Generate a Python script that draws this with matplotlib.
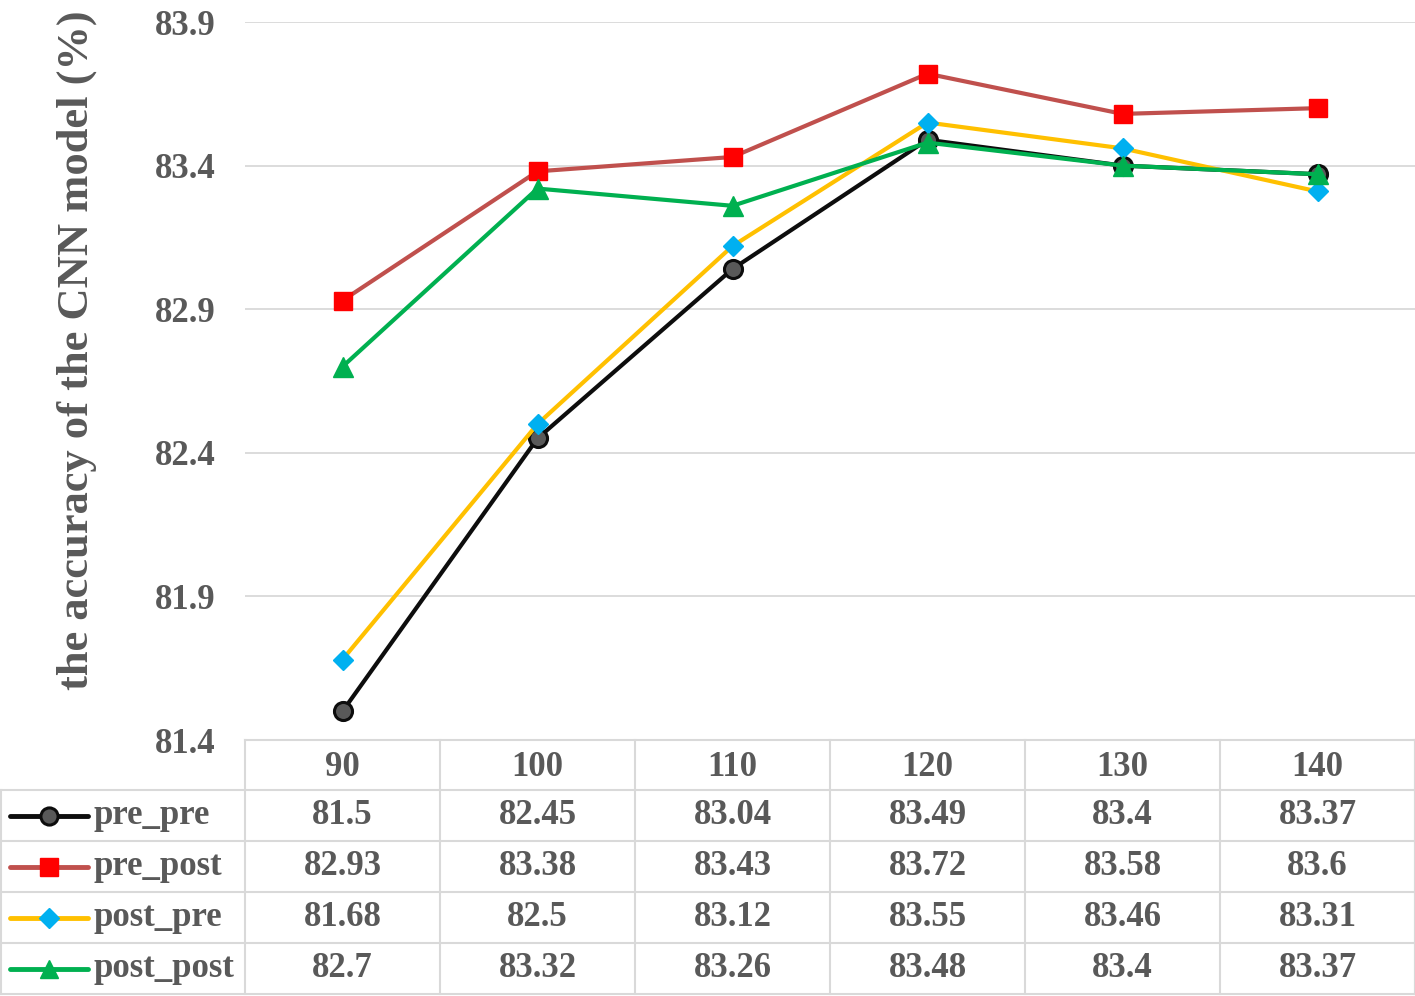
import matplotlib
matplotlib.use("Agg")
import matplotlib.pyplot as plt
from matplotlib.lines import Line2D

# ---- data ----
categories = ["90", "100", "110", "120", "130", "140"]
series_names = ["pre_pre", "pre_post", "post_pre", "post_post"]
pre_pre = [81.5, 82.45, 83.04, 83.49, 83.4, 83.37]
pre_post = [82.93, 83.38, 83.43, 83.72, 83.58, 83.6]
post_pre = [81.68, 82.5, 83.12, 83.55, 83.46, 83.31]
post_post = [82.7, 83.32, 83.26, 83.48, 83.4, 83.37]
table_text = [
    ["81.5", "82.45", "83.04", "83.49", "83.4", "83.37"],
    ["82.93", "83.38", "83.43", "83.72", "83.58", "83.6"],
    ["81.68", "82.5", "83.12", "83.55", "83.46", "83.31"],
    ["82.7", "83.32", "83.26", "83.48", "83.4", "83.37"],
]
y_ticks = [81.4, 81.9, 82.4, 82.9, 83.4, 83.9]
y_label = "the accuracy of the CNN model (%)"

# ---- styles ----
styles = [
    dict(color="#0d0d0d", marker="o", mfc="#595959", mec="#0d0d0d", ms=13, mew=2.2),
    dict(color="#c0504d", marker="s", mfc="#ff0000", mec="#ff0000", ms=13.5, mew=1),
    dict(color="#ffc000", marker="D", mfc="#00b0f0", mec="#00b0f0", ms=10.5, mew=1),
    dict(color="#00b050", marker="^", mfc="#00b050", mec="#00b050", ms=14, mew=1),
]
TXT = "#595959"
GRID = "#d9d9d9"
FS = 25
plt.rcParams["font.family"] = ["Liberation Serif", "DejaVu Serif"]
plt.rcParams["font.weight"] = "bold"

W, H = 1415, 996
fig = plt.figure(figsize=(W / 100, H / 100), dpi=100)
ax_l, ax_r, ax_t, ax_b = 245, 1415, 22, 740
axw = ax_r - ax_l
axh = ax_b - ax_t
ax = fig.add_axes([ax_l / W, 1 - ax_b / H, axw / W, axh / H])

xs = list(range(len(categories)))
all_series = [pre_pre, pre_post, post_pre, post_post]
for vals, st in zip(all_series, styles):
    ax.plot(xs, vals, lw=3, zorder=3, clip_on=False, **st)

ax.set_xlim(-0.5, len(categories) - 0.5)
ax.set_ylim(y_ticks[0], y_ticks[-1])
ax.set_yticks(y_ticks)
ax.set_yticklabels([f"{t:.1f}" for t in y_ticks])
ax.set_xticks([])
ax.tick_params(axis="y", length=0, pad=21, labelsize=FS, labelcolor=TXT)
for lab in ax.get_yticklabels():
    lab.set_fontweight("bold")
ax.grid(axis="y", color=GRID, lw=1.3)
ax.set_axisbelow(True)
for s in ax.spines.values():
    s.set_visible(False)

ax.set_ylabel(y_label, fontsize=32, color=TXT, fontweight="bold")
ax.yaxis.set_label_coords(-(ax_l - 97) / axw, (ax_b - 350) / axh)

# ---- data table (drawn with axes-relative lines, columns tied to data x) ----
tb_top, tb_bot = 740, 994
hdr_h = 50
row_h = (tb_bot - tb_top - hdr_h) / len(series_names)
xtrans = ax.get_xaxis_transform()

def ya(py):
    return (ax_b - py) / axh

def xa(px):
    return (px - ax_l) / axw

line_kw = dict(transform=ax.transAxes, color=GRID, lw=1.5, clip_on=False, zorder=1)
# horizontal lines
ax.add_line(Line2D([0, 1], [ya(tb_top), ya(tb_top)], **line_kw))
for i in range(len(series_names) + 1):
    py = tb_top + hdr_h + i * row_h
    ax.add_line(Line2D([xa(1), 1], [ya(py), ya(py)], **line_kw))
# vertical lines
ax.add_line(Line2D([xa(1), xa(1)], [ya(tb_top + hdr_h), ya(tb_bot)], **line_kw))
for j in range(len(categories) + 1):
    xx = j / len(categories)
    ax.add_line(Line2D([xx, xx], [ya(tb_top), ya(tb_bot)], **line_kw))
ax.add_line(Line2D([1 - 0.5 / axw, 1 - 0.5 / axw], [ya(tb_top), ya(tb_bot)], **line_kw))

# header
for j, cat in enumerate(categories):
    ax.text(xs[j], ya(tb_top + hdr_h / 2 + 2), cat, transform=xtrans, ha="center", va="center",
            fontsize=FS, color=TXT, fontweight="bold", clip_on=False)
# rows
for i, (name, st) in enumerate(zip(series_names, styles)):
    yc = ya(tb_top + hdr_h + row_h * i + row_h / 2)
    for j in range(len(categories)):
        ax.text(xs[j], yc, table_text[i][j], transform=xtrans, ha="center", va="center",
                fontsize=FS, color=TXT, fontweight="bold", clip_on=False)
    x0, x1 = xa(10), xa(88)
    ax.add_line(Line2D([x0, x1], [yc, yc], transform=ax.transAxes, lw=3.5,
                       color=st["color"], clip_on=False, solid_capstyle="round"))
    ax.add_line(Line2D([(x0 + x1) / 2], [yc], transform=ax.transAxes, lw=0, clip_on=False,
                       marker=st["marker"], mfc=st["mfc"], mec=st["mec"],
                       ms=st["ms"] * 0.95, mew=st["mew"]))
    ax.text(xa(94), yc, name, transform=ax.transAxes, ha="left", va="center",
            fontsize=FS, color=TXT, fontweight="bold", clip_on=False)

fig.savefig("out.png", dpi=100)
